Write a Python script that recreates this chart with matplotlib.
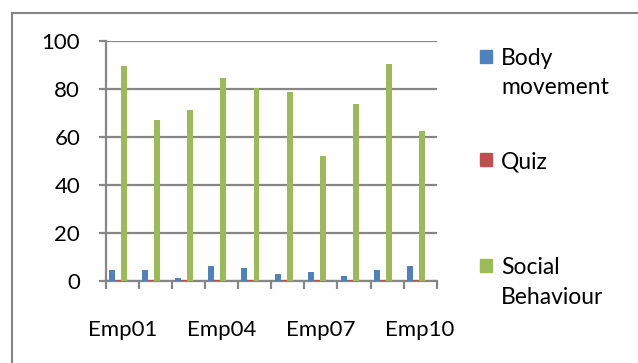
import numpy as np
import matplotlib.pyplot as plt
from matplotlib.patches import Rectangle
from matplotlib.lines import Line2D

# data
employees = ['Emp01', 'Emp02', 'Emp03', 'Emp04', 'Emp05',
             'Emp06', 'Emp07', 'Emp08', 'Emp09', 'Emp10']
body_movement = [4.6, 4.6, 1.3, 6.2, 5.4, 2.9, 3.8, 2.1, 4.6, 6.2]
quiz = [0.3, 0.3, 0.3, 0.3, 0.3, 0.3, 0.3, 0.3, 0.3, 0.3]
social_behaviour = [89.6, 67.2, 71.4, 84.6, 80.4, 78.8, 52.2, 73.9, 90.4, 62.4]

series_names = ['Body\nmovement', 'Quiz', 'Social\nBehaviour']
colors = ['#4F81BD', '#C0504D', '#9BBB59']
grid_col = '#868686'

plt.rcParams['font.family'] = ['Lato', 'DejaVu Sans']

fig = plt.figure(figsize=(6.38, 3.63), dpi=100)
ax = fig.add_axes([105.7 / 638, 1 - 281 / 363, (436.7 - 105.7) / 638, (281 - 41) / 363])

x = np.arange(len(employees))
w = 0.181
offsets = [-0.307, -0.126, 0.056]
for vals, off, c in zip([body_movement, quiz, social_behaviour], offsets, colors):
    ax.bar(x + off, vals, width=w, color=c, zorder=3)

ax.set_xlim(-0.5, len(employees) - 0.5)
ax.set_ylim(0, 100)
ax.set_yticks(np.arange(0, 101, 20))
ax.yaxis.grid(True, color=grid_col, linewidth=1.6, zorder=0)

# category boundaries get tick marks, labels every third employee
ax.set_xticks(np.arange(-0.5, len(employees), 1.0))
ax.set_xticklabels([])
ax.set_xticks(x[::3], [employees[i] for i in x[::3]], minor=True)
ax.tick_params(axis='x', which='major', length=5.4, width=1.6, color=grid_col, direction='out')
ax.tick_params(axis='x', which='minor', length=0, pad=28, labelsize=16)
ax.tick_params(axis='y', length=5.4, width=1.6, color=grid_col, direction='out',
               pad=13, labelsize=16)

for s in ['top', 'right']:
    ax.spines[s].set_visible(False)
for s in ['left', 'bottom']:
    ax.spines[s].set_color(grid_col)
    ax.spines[s].set_linewidth(1.6)

# legend, placed like the Excel one
W, H = 638, 363
tops = [50, 153, 259]
for name, c, t in zip(series_names, colors, tops):
    fig.patches.append(Rectangle((480 / W, 1 - (t + 13) / H), 12 / W, 13 / H,
                                 transform=fig.transFigure, color=c))
    fig.text(501 / W, 1 - (t - 2) / H, name, fontsize=16.5, va='top', ha='left',
             linespacing=1.5)

# chart area border (top and left edges visible)
fig.add_artist(Line2D([12 / W, 1], [1 - 13 / H, 1 - 13 / H], color=grid_col, lw=1.5))
fig.add_artist(Line2D([12 / W, 12 / W], [0, 1 - 13 / H], color=grid_col, lw=1.5))

fig.savefig('out.png', dpi=100)
